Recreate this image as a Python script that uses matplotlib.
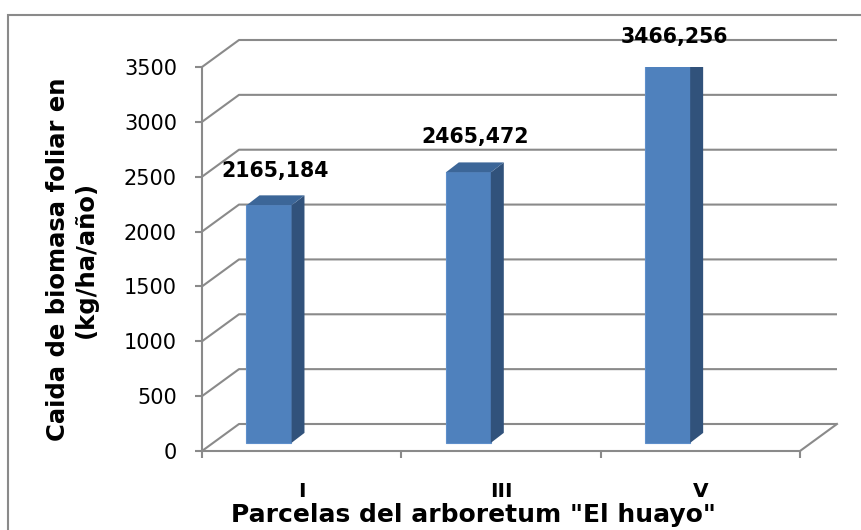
import matplotlib.pyplot as plt
from matplotlib.patches import Polygon, Rectangle

parcelas = ['I', 'III', 'V']
biomasa = [2165.184, 2465.472, 3466.256]
etiquetas = ['2165,184', '2465,472', '3466,256']
ticks_y = [0, 500, 1000, 1500, 2000, 2500, 3000, 3500]

W, H = 862, 530
fig = plt.figure(figsize=(W / 100, H / 100), dpi=100)
ax = fig.add_axes([202 / W, 79 / H, 598 / W, 384 / H])
ax.set_xlim(0, 3)
ax.set_ylim(0, 3500)
ax.patch.set_visible(False)

gris = '#8a8a8a'
px = 3 / 598       # un pixel en unidades x
py = 3500 / 384    # un pixel en unidades y
dx, dy = 37 * px, 27 * py   # profundidad de la caja 3D

# pared del fondo y piso
for v in ticks_y:
    ax.plot([0, dx, 3 + dx], [v, v + dy, v + dy], color=gris, lw=1.5,
            clip_on=False, zorder=1, solid_capstyle='butt')
ax.plot([3, 3 + dx], [0, dy], color=gris, lw=1.5, clip_on=False, zorder=1)

# columnas 3D
base = 0.3 * dy
w = 45 * px
sx, sy = 13 * px, 10 * py
cx = [i + 0.5 - 0.164 for i in range(len(parcelas))]
ax.bar(cx, biomasa, width=w, bottom=base, color='#4F81BD', edgecolor='#5E8FCB',
       linewidth=0.8, zorder=3)
lift = [13, 14, 7]
for c, v, txt, off in zip(cx, biomasa, etiquetas, lift):
    top = base + v
    l, r = c - w / 2, c + w / 2
    ax.add_patch(Polygon([(r, base), (r + sx, base + sy), (r + sx, top + sy), (r, top)],
                         closed=True, facecolor='#31527B', edgecolor='none', zorder=3))
    ax.add_patch(Polygon([(l, top), (r, top), (r + sx, top + sy), (l + sx, top + sy)],
                         closed=True, facecolor='#3C6698', edgecolor='none', zorder=3))
    ax.annotate(txt, (c + sx / 2, top + sy), xytext=(0, off), textcoords='offset points',
                ha='center', va='baseline', fontsize=14.8, fontweight='bold',
                annotation_clip=False, zorder=4)

# ejes
for s in ['top', 'right']:
    ax.spines[s].set_visible(False)
for s in ['left', 'bottom']:
    ax.spines[s].set_color(gris)
    ax.spines[s].set_linewidth(1.5)
ax.set_yticks(ticks_y)
ax.tick_params(axis='y', length=5, width=1.5, color=gris, pad=13, labelsize=15)
ax.set_xticks([0, 1, 2, 3], labels=[''] * 4)
ax.tick_params(axis='x', which='major', length=5, width=1.5, color=gris)
ax.set_xticks([0.5, 1.5, 2.5], labels=parcelas, minor=True)
ax.tick_params(axis='x', which='minor', length=0, pad=22, labelsize=14.5)
for t in ax.get_xticklabels(minor=True):
    t.set_fontweight('bold')

fig.text(72 / W, 1 - 259 / H, 'Caida de biomasa foliar en\n(kg/ha/año)', rotation=90,
         ha='center', va='center', multialignment='center', fontsize=17.5,
         fontweight='bold')
fig.text(473 / W, 1 - 522 / H, 'Parcelas del arboretum "El huayo"', ha='center',
         va='baseline', fontsize=18, fontweight='bold')

# marco del gráfico
fig.add_artist(Rectangle((8 / W, -0.1), 1.2, 1 - 15 / H + 0.1, transform=fig.transFigure,
                         fill=False, edgecolor=gris, lw=1.5))

fig.savefig('out.png', dpi=100)
